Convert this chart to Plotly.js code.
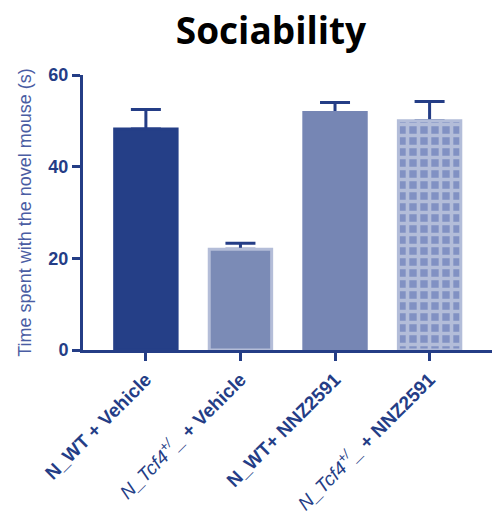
<!DOCTYPE html>
<html>
<head>
<meta charset="utf-8">
<script src="https://cdn.plot.ly/plotly-3.0.1.min.js"></script>
<style>html,body{margin:0;padding:0;background:#fff;}#chart{width:493px;height:519px;}</style>
</head>
<body>
<div id="chart"></div>
<script>
const categories = [
  "<b>N_WT + Vehicle</b>",
  "<i>N_Tcf4<sup>+/</sup>_</i><b> + Vehicle</b>",
  "<b>N_WT+ NNZ2591</b>",
  "<i>N_Tcf4<sup>+/</sup>_</i><b> + NNZ2591</b>"
];
const means = [48.2, 22.0, 51.8, 50.0];
const sem = [4.3, 1.3, 2.2, 4.2];
const yTicks = [0, 20, 40, 60];

const navy = "#243d86";
const xs = [0, 1, 2, 3];

// error bars carried by an invisible bar trace drawn underneath the visible bars
const errTrace = {
  type: "bar",
  x: xs,
  y: means,
  width: 0.66,
  marker: { color: "rgba(0,0,0,0)", line: { width: 0 } },
  error_y: {
    type: "data",
    symmetric: false,
    array: sem,
    arrayminus: [0, 0, 0, 0],
    color: navy,
    thickness: 3,
    width: 15
  },
  hoverinfo: "none"
};

// solid bars (first three groups)
const solidTrace = {
  type: "bar",
  x: xs.slice(0, 3),
  y: means.slice(0, 3),
  width: 0.66,
  marker: {
    color: ["#253f87", "#7b8bb6", "#7686b4"],
    line: { color: ["#253f87", "#b4bdd8", "#7686b4"], width: 3 }
  },
  hoverinfo: "none"
};

// checkered bar (fourth group)
const patternTrace = {
  type: "bar",
  x: xs.slice(3),
  y: means.slice(3),
  width: 0.66,
  marker: {
    color: "#8191c3",
    line: { color: "#b3bdd9", width: 3 },
    pattern: {
      shape: "+",
      fgcolor: "#b3bdd9",
      fgopacity: 1,
      size: 11,
      solidity: 0.55,
      fillmode: "overlay"
    }
  },
  hoverinfo: "none"
};

const layout = {
  width: 493,
  height: 519,
  margin: { l: 83, r: 1, t: 75, b: 169 },
  paper_bgcolor: "#fff",
  plot_bgcolor: "#fff",
  showlegend: false,
  barmode: "overlay",
  title: {
    text: "<b>Sociability</b>",
    font: { family: "'Open Sans', Lato, sans-serif", size: 37, color: "#000" },
    x: 271 / 493,
    xref: "container",
    xanchor: "center",
    yref: "container",
    y: 1 - 31 / 519,
    yanchor: "middle"
  },
  xaxis: {
    range: [-0.665, 3.66],
    tickmode: "array",
    tickvals: xs,
    ticktext: categories,
    tickangle: -45,
    ticks: "outside",
    ticklen: 8,
    tickwidth: 3,
    tickcolor: navy,
    showline: true,
    linecolor: navy,
    linewidth: 3,
    showgrid: false,
    zeroline: false,
    tickfont: { family: "Arial, 'Liberation Sans', sans-serif", size: 19, color: navy },
    automargin: false
  },
  yaxis: {
    range: [0, 60],
    tickmode: "array",
    tickvals: yTicks,
    ticktext: yTicks.map(v => "<b>" + v + "</b>"),
    ticks: "outside",
    ticklen: 8,
    tickwidth: 3,
    tickcolor: navy,
    showline: true,
    linecolor: navy,
    linewidth: 3,
    showgrid: false,
    zeroline: false,
    tickfont: { family: "Arial, 'Liberation Sans', sans-serif", size: 18, color: navy },
    title: {
      text: "Time spent with the novel mouse (s)",
      font: { family: "Arial, 'Liberation Sans', sans-serif", size: 18, color: "#4a5da3" },
      standoff: 13
    },
    automargin: false
  }
};

Plotly.newPlot("chart", [errTrace, solidTrace, patternTrace], layout, { displayModeBar: false, staticPlot: true });
</script>
</body>
</html>
